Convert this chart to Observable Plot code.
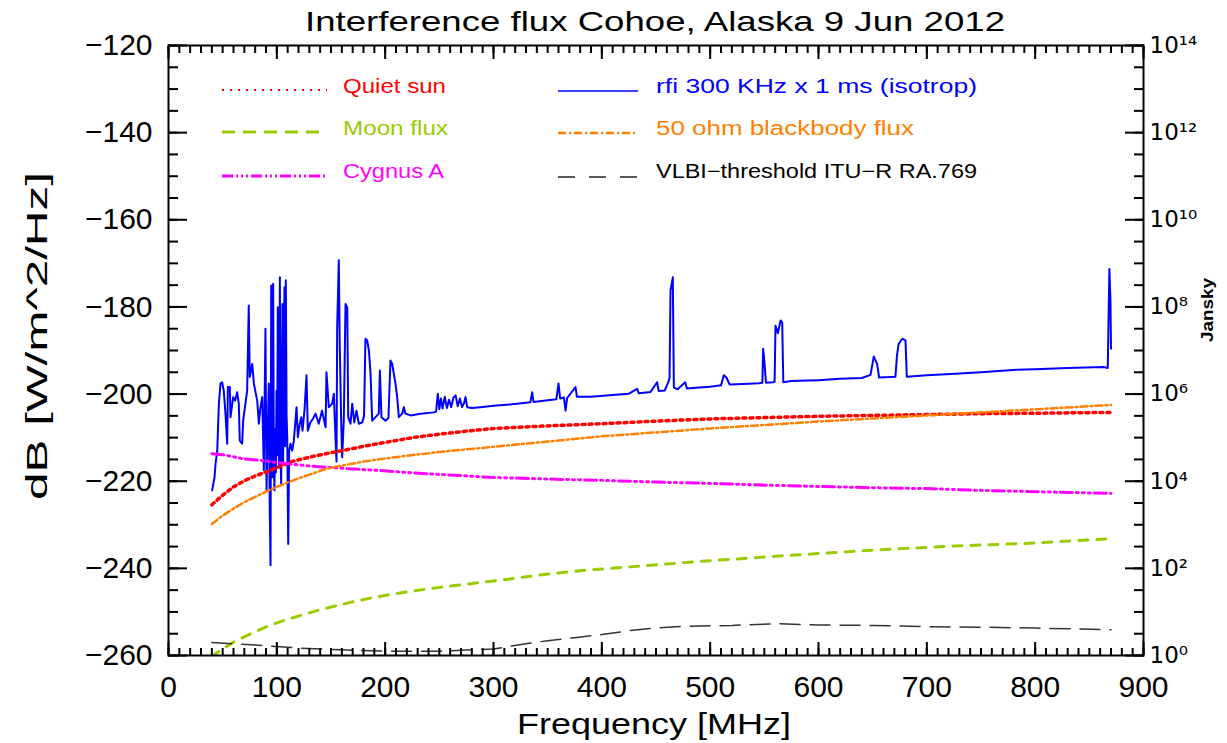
<!DOCTYPE html>
<html><head><meta charset="utf-8">
<script src="https://cdn.jsdelivr.net/npm/d3@7"></script>
<script src="https://cdn.jsdelivr.net/npm/@observablehq/plot@0.6"></script>
<style>body{margin:0;background:#fff;} #chart{width:1227px;height:743px;}</style>
</head><body><div id="chart"></div>
<script>
// ---------- DATA ----------
const titleText = "Interference flux Cohoe, Alaska 9 Jun 2012";
const xLabelText = "Frequency [MHz]";
const yLabelText = "dB [W/m^2/Hz]";
const rightLabelText = "Jansky";
const legendLabels = ["Quiet sun", "Moon flux", "Cygnus A", "rfi 300 KHz x 1 ms (isotrop)", "50 ohm blackbody flux", "VLBI\u2212threshold ITU\u2212R RA.769"];

const xTickValues = [0, 100, 200, 300, 400, 500, 600, 700, 800, 900];
const yTickValues = [-260, -240, -220, -200, -180, -160, -140, -120];
const janskyLabels = ["10\u2070", "10\u00b2", "10\u2074", "10\u2076", "10\u2078", "10\u00b9\u2070", "10\u00b9\u00b2", "10\u00b9\u2074"];

const sunFreq = [40, 50, 60, 70, 80, 90, 100, 115, 130, 145, 160, 180, 200, 225, 250, 275, 300, 350, 400, 450, 500, 550, 600, 650, 700, 750, 800, 870];
const sunDb   = [-225.4, -223.2, -221.3, -219.9, -218.8, -217.9, -216.9, -215.4, -214.5, -213.7, -213.0, -212.0, -211.1, -210.0, -209.2, -208.5, -207.9, -207.3, -206.8, -206.2, -205.7, -205.4, -205.1, -204.9, -204.7, -204.5, -204.4, -204.2];

const ohmFreq = [40, 50, 60, 70, 80, 90, 100, 115, 130, 145, 160, 180, 200, 225, 250, 275, 300, 350, 400, 450, 500, 550, 600, 650, 700, 750, 800, 870];
const ohmDb   = [-229.8, -227.9, -226.3, -224.8, -223.6, -222.4, -221.3, -219.8, -218.5, -217.2, -216.4, -215.5, -214.8, -214.0, -213.3, -212.7, -212.1, -210.9, -209.7, -208.8, -207.9, -207.1, -206.3, -205.6, -204.9, -204.2, -203.5, -202.5];

const cygFreq = [40, 50, 60, 70, 85, 100, 110, 130, 146, 170, 193, 215, 239, 270, 296, 350, 400, 450, 500, 550, 600, 650, 700, 750, 800, 870];
const cygDb   = [-213.7, -213.9, -214.4, -214.9, -215.2, -215.7, -216.0, -216.5, -216.8, -217.2, -217.5, -217.9, -218.3, -218.7, -219.1, -219.5, -219.8, -220.2, -220.5, -220.9, -221.2, -221.5, -221.7, -222.1, -222.4, -222.8];

const moonFreq = [40, 43.4, 60, 76, 91, 106, 122, 137, 153, 168, 183, 202, 239, 276, 310, 350, 390, 408, 491, 568, 645, 722, 799, 854, 870];
const moonDb   = [-260.4, -259.6, -256.9, -255.0, -253.3, -252.0, -250.8, -249.7, -248.7, -247.8, -247.0, -246.1, -244.7, -243.6, -242.6, -241.3, -240.3, -240.0, -238.4, -237.1, -235.9, -234.9, -234.2, -233.4, -233.2];

const vlbiFreq = [40, 80, 120, 160, 200, 250, 300, 330, 350, 375, 400, 425, 450, 475, 520, 560, 600, 650, 700, 750, 800, 870];
const vlbiDb   = [-257.0, -257.6, -258.3, -258.7, -259.0, -259.0, -258.5, -257.3, -256.6, -255.9, -255.2, -254.3, -253.7, -253.3, -253.1, -252.7, -253.0, -253.1, -253.4, -253.5, -253.7, -254.1];

const rfiFreq = [40.3, 42.5, 43.4, 45.0, 46.5, 48.0, 49.5, 51.0, 52.6, 54.2, 54.8, 56.6, 57.2, 59.7, 61.5, 63.4, 64.9, 65.8, 68.0, 68.9,
  71.0, 72.6, 74.1, 75.0, 77.3, 78.8, 81.9, 83.4, 84.9, 86.5, 88.0, 89.5, 90.5, 91.5, 92.6, 93.5, 94.2, 94.8, 95.4, 96.0,
  96.6, 97.2, 97.8, 98.5, 99.1, 99.7, 100.3, 100.9, 101.5, 102.2, 102.8, 103.4, 104.0, 104.6, 105.2, 105.8, 106.4, 107.1, 107.7, 108.3,
  109.0, 109.6, 110.5, 111.4, 112.6, 114.2, 115.7, 118.2, 119.4, 121.2, 122.5, 123.7, 125.5, 127.4, 128.6, 131, 133, 135.7, 138.7, 141.7,
  145.0, 145.8, 148.0, 151.1, 152.6, 154.1, 155.1, 155.7, 157.2, 158.1, 159.4, 160.3, 161.8, 163.4, 165.0, 165.9, 168.0, 169.6, 171.5, 173.5,
  175.7, 178.8, 180.5, 181.8, 183.4, 185.0, 186.5, 188.0, 191.1, 194.1, 195.1, 196.6, 200.3, 203, 204.9, 206.5, 209.5, 211.1, 212.6, 215.7,
  217.2, 218.8, 223.4, 232.6, 244.9, 247.0, 248.6, 250, 251.5, 253, 255, 257, 259, 261, 263, 265, 267, 269, 271, 272.6,
  274.2, 275.7, 280, 288, 300, 315, 330, 334, 335.7, 337, 350, 358, 360, 361.5, 365, 366.5, 368, 375.7, 377, 390,
  410, 425, 432.6, 434, 445, 451, 452.5, 458, 461, 462.5, 463.4, 465.5, 466.5, 470, 477, 478.5, 490, 500, 510, 512.6,
  515, 518, 530, 545, 548.2, 548.9, 550, 551.5, 558, 559.5, 560.3, 562.5, 565, 566.5, 567.5, 575, 590, 600, 620, 640,
  648, 651, 654, 656, 665, 671, 672.5, 674, 677.3, 680.3, 681.5, 700, 722, 750, 783, 800, 830, 863, 867, 868.5,
  869.5, 870];
const rfiDb = [-222.1, -219.1, -216.0, -213.0, -202.2, -197.6, -197.3, -199.2, -204.5, -211.4, -198.4, -198.4, -205.3, -200.7, -201.5, -199.6, -202.2, -210.7, -211.4, -206.1,
  -202.2, -199.2, -179.7, -196.1, -193.1, -197.6, -201.5, -206.8, -203.0, -200.7, -217.5, -185.0, -222.1, -210, -197.6, -227.5, -239.3, -175.1, -215, -219.1,
  -174.7, -212, -222.1, -208, -218, -199.2, -214, -180.1, -212, -216.8, -173.2, -214, -220.6, -200, -179.3, -216.0, -190, -175.5, -212, -173.9,
  -205, -209.9, -234.4, -213.0, -211.4, -213.0, -210.7, -203.0, -209.9, -206.8, -205.3, -208.4, -203.8, -195.7, -208.4, -206.5, -205.8, -204.5, -206.8, -203.8,
  -207.6, -195.0, -203.0, -202.2, -199.9, -209.9, -215.5, -184.7, -169.3, -189.2, -206.1, -214.5, -206.1, -179.3, -180.1, -205.3, -206.8, -202.2, -206.5, -203.8,
  -206.8, -206.5, -205, -187.3, -187.7, -190.0, -195.3, -206.1, -205.3, -204.5, -194.6, -205.3, -206.1, -205.5, -192.3, -193.1, -197.6, -200.7, -205.3, -204.5,
  -203.0, -204.5, -204.9, -204.5, -204.2, -204.0, -199.9, -203.5, -201.0, -203.3, -200.6, -203.2, -201.3, -203.0, -200.8, -200.3, -202.8, -201.0, -203.0, -202.2,
  -200.7, -203.0, -203.2, -203.0, -202.7, -202.4, -202.0, -201.9, -199.6, -201.8, -201.4, -201.2, -197.6, -201.0, -200.8, -203.8, -200.9, -198.4, -200.6, -200.6,
  -200.2, -199.9, -198.8, -199.8, -199.5, -197.3, -199.3, -199.2, -197.5, -196.4, -176.2, -173.2, -198.5, -198.9, -197.3, -198.7, -198.5, -198.3, -198.0, -195.7,
  -196.2, -197.8, -197.7, -197.5, -197.4, -189.6, -192.3, -197.4, -197.3, -197.2, -184.3, -186.0, -183.1, -183.6, -197.3, -197.0, -196.9, -196.8, -196.5, -196.3,
  -195.6, -191.4, -193.0, -196.2, -196.1, -196.0, -191, -188.5, -187.3, -187.7, -196.0, -195.7, -195.4, -195.0, -194.4, -194.3, -194.0, -193.8, -194.0, -171.3,
  -178.5, -189.6];

// ---------- BUILD ----------
const rows = (fs, ds) => fs.map((f, i) => ({f, db: ds[i]}));
const yMinor = d3.range(-260, -119, 5);
const xMinor = d3.range(0, 901, 10);
const FONT = "'Liberation Sans', Arial, sans-serif";

const plot = Plot.plot({
  width: 1227, height: 743,
  marginLeft: 168, marginRight: 84, marginTop: 45, marginBottom: 88,
  style: {fontFamily: FONT, fontSize: "30px", background: "#fff", color: "#000", overflow: "visible"},
  x: {domain: [0, 900], label: null},
  y: {domain: [-260, -120], label: null},
  marks: [
    Plot.line(rows(rfiFreq, rfiDb), {x: "f", y: "db", stroke: "#0000ff", strokeWidth: 2, clip: true}),
    Plot.line(rows(sunFreq, sunDb), {x: "f", y: "db", stroke: "#ff0000", strokeWidth: 3.5, strokeDasharray: "3,4", clip: true}),
    Plot.line(rows(moonFreq, moonDb), {x: "f", y: "db", stroke: "#99cc00", strokeWidth: 3, strokeDasharray: "9,9", clip: true}),
    Plot.line(rows(cygFreq, cygDb), {x: "f", y: "db", stroke: "#ff00ff", strokeWidth: 3, strokeDasharray: "12,4,2,4,2,4,2,4", clip: true}),
    Plot.line(rows(ohmFreq, ohmDb), {x: "f", y: "db", stroke: "#ff8000", strokeWidth: 2.5, strokeDasharray: "7,3,2,3", clip: true}),
    Plot.line(rows(vlbiFreq, vlbiDb), {x: "f", y: "db", stroke: "#333", strokeWidth: 1.5, strokeDasharray: "20,10", clip: true}),
    Plot.frame({stroke: "#000", strokeWidth: 2}),
    // ticks (inward)
    Plot.axisY(yMinor, {anchor: "left", tickSize: -10, tickFormat: () => "", strokeWidth: 2}),
    Plot.axisY(yTickValues, {anchor: "left", tickSize: -19, tickFormat: () => "", strokeWidth: 2}),
    Plot.axisY(yMinor, {anchor: "right", tickSize: -10, tickFormat: () => "", strokeWidth: 2}),
    Plot.axisY(yTickValues, {anchor: "right", tickSize: -19, tickFormat: () => "", strokeWidth: 2}),
    Plot.axisX(xMinor, {anchor: "bottom", tickSize: -7, tickFormat: () => "", strokeWidth: 2}),
    Plot.axisX(xTickValues, {anchor: "bottom", tickSize: -13, tickFormat: () => "", strokeWidth: 2}),
    Plot.axisX(xMinor, {anchor: "top", tickSize: -7, tickFormat: () => "", strokeWidth: 2}),
    Plot.axisX(xTickValues, {anchor: "top", tickSize: -13, tickFormat: () => "", strokeWidth: 2}),
    // labels
    Plot.axisY(yTickValues, {anchor: "left", tickSize: 0, tickPadding: 16}),
    Plot.axisX(xTickValues, {anchor: "bottom", tickSize: 0, tickPadding: 20}),
    Plot.axisY(yTickValues, {anchor: "right", tickSize: 0, tickPadding: 6, fontSize: 23, fontFamily: "DejaVu Sans",
      tickFormat: d => janskyLabels[yTickValues.indexOf(d)]})
  ]
});
document.getElementById("chart").appendChild(plot);

// ---------- TEXT & LEGEND ----------
const svg = d3.select(plot);
function addText(txt, x, y, size, len, opts = {}) {
  const t = svg.append("text").attr("x", x).attr("y", y).attr("text-anchor", opts.anchor || "middle")
    .attr("font-family", opts.family || FONT).attr("font-size", size).attr("fill", opts.fill || "#000")
    .attr("textLength", len).attr("lengthAdjust", "spacingAndGlyphs").text(txt);
  if (opts.rotate) t.attr("transform", `rotate(${opts.rotate},${x},${y})`);
  if (opts.weight) t.attr("font-weight", opts.weight);
  return t;
}
addText(titleText, 655, 31, 28, 700);
addText(xLabelText, 654, 734, 29, 274);
addText(yLabelText, 47, 336, 30, 328, {rotate: -90});
addText(rightLabelText, 1213, 310, 16, 64, {rotate: -90, weight: "bold"});

const legendStyles = [
  {stroke: "#ff0000", dash: "2,6", w: 2, x0: 222, x1: 327, tx: 343, y: 90, ty: 93, len: 103},
  {stroke: "#99cc00", dash: "13,8", w: 3, x0: 222, x1: 325, tx: 343, y: 132, ty: 135, len: 105},
  {stroke: "#ff00ff", dash: "11,3,2,3,2,3,2,3", w: 3, x0: 222, x1: 327, tx: 343, y: 176, ty: 178, len: 101},
  {stroke: "#0000ff", dash: null, w: 1.5, x0: 558, x1: 638, tx: 656, y: 91, ty: 93, len: 321},
  {stroke: "#ff8000", dash: "8,3,2,3", w: 2.5, x0: 558, x1: 638, tx: 656, y: 133, ty: 135, len: 258},
  {stroke: "#222", dash: "17,14", w: 1.5, x0: 558, x1: 638, tx: 656, y: 177, ty: 178, len: 321}
];
legendLabels.forEach((lab, i) => {
  const s = legendStyles[i];
  const l = svg.append("line").attr("x1", s.x0).attr("x2", s.x1).attr("y1", s.y).attr("y2", s.y)
    .attr("stroke", s.stroke).attr("stroke-width", s.w);
  if (s.dash) l.attr("stroke-dasharray", s.dash);
  addText(lab, s.tx, s.ty, 20, s.len, {anchor: "start", fill: s.stroke === "#222" ? "#000" : s.stroke});
});
</script></body></html>
